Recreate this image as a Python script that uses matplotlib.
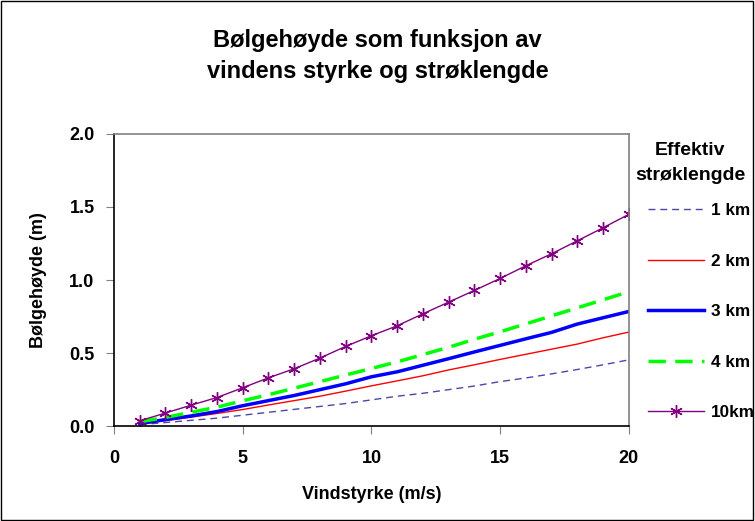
import matplotlib.pyplot as plt
from matplotlib.patches import Rectangle

plt.rcParams['font.family'] = ['Liberation Sans', 'DejaVu Sans']
plt.rcParams['font.weight'] = 'bold'

vind = list(range(1, 21))
h_1km = [0.010, 0.025, 0.040, 0.055, 0.075, 0.095, 0.115, 0.135, 0.155, 0.180,
         0.205, 0.225, 0.250, 0.275, 0.305, 0.330, 0.358, 0.388, 0.420, 0.454]
h_2km = [0.015, 0.038, 0.062, 0.087, 0.114, 0.145, 0.175, 0.205, 0.240, 0.276,
         0.310, 0.345, 0.385, 0.420, 0.457, 0.492, 0.527, 0.562, 0.605, 0.644]
h_3km = [0.018, 0.045, 0.070, 0.100, 0.140, 0.175, 0.210, 0.250, 0.290, 0.338,
         0.372, 0.417, 0.462, 0.508, 0.553, 0.598, 0.642, 0.699, 0.742, 0.785]
h_4km = [0.030, 0.060, 0.095, 0.130, 0.174, 0.215, 0.260, 0.305, 0.350, 0.395,
         0.440, 0.490, 0.540, 0.595, 0.646, 0.700, 0.755, 0.810, 0.865, 0.920]
h_10km = [0.037, 0.090, 0.144, 0.196, 0.263, 0.331, 0.393, 0.466, 0.546, 0.619,
          0.687, 0.769, 0.849, 0.929, 1.011, 1.098, 1.180, 1.269, 1.358, 1.450]

fig = plt.figure(figsize=(7.55, 5.21), dpi=100)
ax = fig.add_axes([0.151, 0.182, 0.682, 0.561])

ax.plot(vind, h_1km, color='#4848a8', lw=1, dashes=(5, 3.5), label='1 km')
ax.plot(vind, h_2km, color='#ff0000', lw=1, label='2 km')
ax.plot(vind, h_3km, color='#0000ff', lw=2.5, label='3 km')
ax.plot(vind, h_4km, color='#00ff00', lw=2.5, dashes=(5, 2.7), label='4 km')
ax.plot(vind, h_10km, color='#800080', lw=1, marker=(6, 2, 0), markersize=9,
        markeredgewidth=1, label='10km')

ax.set_xlim(0, 20)
ax.set_ylim(0, 2.0)
ax.set_xticks([0, 5, 10, 15, 20])
ax.set_yticks([0.0, 0.5, 1.0, 1.5, 2.0])
ax.set_yticklabels(['0.0', '0.5', '1.0', '1.5', '2.0'])
ax.tick_params(axis='both', labelsize=13, length=6, color='#808080')
ax.tick_params(axis='x', pad=11)
ax.tick_params(axis='y', pad=8)
for lbl in ax.get_xticklabels() + ax.get_yticklabels():
    lbl.set_fontweight('bold')

ax.spines['left'].set_color('black')
ax.spines['bottom'].set_color('black')
ax.spines['top'].set_color('#808080')
ax.spines['right'].set_color('#808080')
for s in ax.spines.values():
    s.set_linewidth(1.2)

ax.set_xlabel('Vindstyrke (m/s)', fontsize=13, fontweight='bold', labelpad=14)
ax.set_ylabel('Bølgehøyde (m)', fontsize=13, fontweight='bold', labelpad=16)

fig.text(0.5, 0.8925, 'Bølgehøyde som funksjon av\nvindens styrke og strøklengde',
         ha='center', va='center', fontsize=17, fontweight='bold', linespacing=1.4)

# legend title drawn separately so its spacing can be matched
fig.text(0.914, 0.687, 'Effektiv\nstrøklengde', ha='center', va='center',
         fontsize=14, fontweight='bold', linespacing=1.6)

leg = ax.legend(loc='upper left', bbox_to_anchor=(0.8487, 0.623),
                bbox_transform=fig.transFigure, frameon=False, fontsize=12.3,
                borderaxespad=0, handlelength=3.3, labelspacing=2.08,
                handletextpad=0.41)

fig.patches.append(Rectangle((0.001, 0.001), 0.997, 0.997, transform=fig.transFigure,
                             fill=False, edgecolor='black', lw=1))

fig.savefig('out.png', dpi=100)
